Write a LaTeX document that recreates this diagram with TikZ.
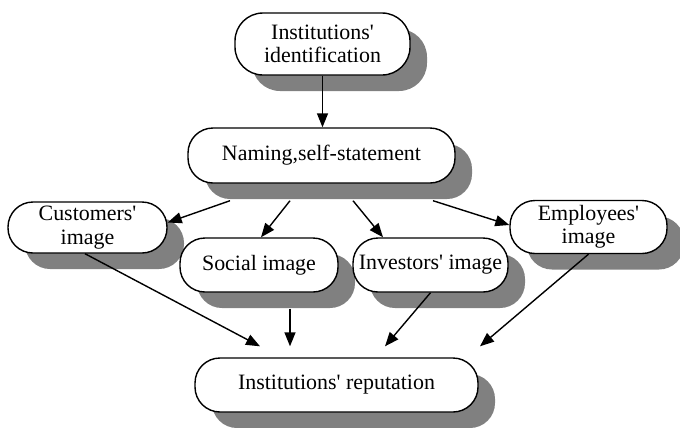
\documentclass[tikz,border=0pt]{standalone}
\usepackage{fontspec}
\setmainfont{Liberation Serif}
\newfontfamily\apfont{Liberation Serif}[Ligatures=Common]
\usetikzlibrary{arrows.meta,shadows,calc}
\newcommand{\apos}{{\apfont\char"0027\relax}}
\begin{document}
\begin{tikzpicture}[x=1bp,y=-1bp,
  box/.style={draw=black, line width=1.4bp, fill=white, rounded corners=25bp,
    inner sep=0pt, align=center, font=\fontsize{22}{23.5}\selectfont,
    drop shadow={shadow xshift=17bp, shadow yshift=-16bp, fill=black!50, opacity=1}},
  arr/.style={line width=1.4bp, -{Triangle[length=14bp,width=11bp]}}]
\useasboundingbox (0,0) rectangle (680,427);
\node[box, minimum width=175bp, minimum height=62bp, rounded corners=28bp] (ident) at (322.5,44) {Institutions\apos\\identification};
\node[box, minimum width=267bp, minimum height=55bp] (naming) at (321.5,155.5) {Naming,self-statement};
\node[box, minimum width=159bp, minimum height=51bp] (cust) at (87.5,227.5) {Customers\apos\\image};
\node[box, minimum width=158bp, minimum height=54bp] (social) at (259,265) {Social image};
\node[box, minimum width=155bp, minimum height=54bp] (invest) at (430.5,265) {Investors\apos{} image};
\node[box, minimum width=157bp, minimum height=53bp] (employ) at (588.5,227) {Employees\apos\\image};
\node[box, minimum width=283bp, minimum height=54bp] (rep) at (336.5,385) {Institutions\apos{} reputation};

\draw[arr] (ident.south) -- (ident.south |- naming.north);
\draw[arr] ([shift={(-91.5,17)}]naming.south) -- ([shift={(0,-5)}]cust.east);
\draw[arr] ([shift={(-31.5,17)}]naming.south) -- ([shift={(2,0)}]social.north);
\draw[arr] ([shift={(31.5,17)}]naming.south) -- ([shift={(-47.5,0)}]invest.north);
\draw[arr] ([shift={(111.5,17)}]naming.south) -- ([shift={(0,-2)}]employ.west);

\draw[arr] ([shift={(-2.5,0)}]cust.south) -- ([shift={(-76.5,-11)}]rep.north);
\draw[arr] ([shift={(31,16)}]social.south) -- ([shift={(-46.5,-11)}]rep.north);
\draw[arr] (invest.south) -- ([shift={(48.5,-11)}]rep.north);
\draw[arr] (employ.south) -- ([shift={(143.5,-11)}]rep.north);
\end{tikzpicture}
\end{document}
